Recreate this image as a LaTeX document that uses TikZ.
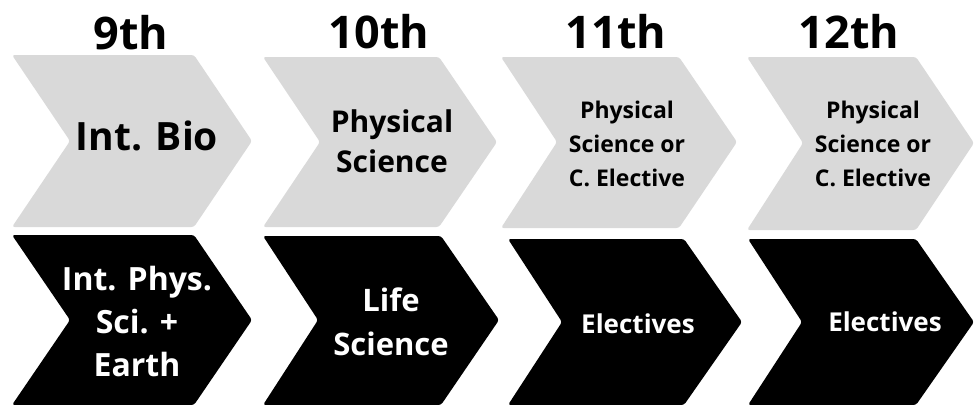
\documentclass[tikz,border=0pt]{standalone}
\usepackage{fontspec}
\setmainfont{Open Sans}
\usetikzlibrary{positioning}
\definecolor{chevgray}{HTML}{D9D9D9}
\tikzset{
chevtop/.style={
  fill=chevgray,
  rounded corners=2pt
  },
chevbot/.style={
  fill=black,
  rounded corners=2pt
  },
year/.style={font=\fontsize{33.75}{40}\selectfont\bfseries, inner sep=0pt, anchor=base},
lbl/.style={inner sep=0pt, align=center, text=black},
wlbl/.style={inner sep=0pt, align=center, text=white}
}

\begin{document}
\begin{tikzpicture}[x=0.75pt,y=0.75pt,yscale=-1,xscale=1]
\useasboundingbox (0,0) rectangle (974,404);

% top row
\fill [chevtop] (12,55) -- (194,55) -- (252,141) -- (194,227) -- (12,227) -- (70,141) -- cycle ;
\fill [chevtop] (263,57) -- (439,57) -- (497,142) -- (439,227) -- (263,227) -- (320,142) -- cycle ;
\fill [chevtop] (501,57) -- (679,57) -- (737,142) -- (679,228) -- (501,228) -- (557,142) -- cycle ;
\fill [chevtop] (747,57) -- (916,57) -- (974,143) -- (916,230) -- (747,230) -- (803,143) -- cycle ;

% bottom row
\fill [chevbot] (12,235) -- (194,235) -- (252,320) -- (194,405) -- (12,405) -- (70,320) -- cycle ;
\fill [chevbot] (263,236) -- (441,236) -- (499,320) -- (441,405) -- (263,405) -- (318,320) -- cycle ;
\fill [chevbot] (508,239) -- (684,239) -- (742,322) -- (684,405) -- (508,405) -- (562,322) -- cycle ;
\fill [chevbot] (748,239) -- (916,239) -- (974,322) -- (916,405) -- (748,405) -- (802,322) -- cycle ;

% years
\node [year] (y9) at (131,49) {9th};
\node [year] (y10) at (379,48) {10th};
\node [year] (y11) at (616,48) {11th};
\node [year] (y12) at (849,48) {12th};

% courses
\node [lbl, anchor=base, font=\fontsize{29.25}{35}\selectfont\bfseries] (bio) at (147,150) {Int. Bio};
\node [lbl, font=\fontsize{22.5}{30}\selectfont\bfseries] (phys10) at (392,141.5) {Physical\\Science};
\node [lbl, font=\fontsize{17.25}{25.5}\selectfont\bfseries] (phys11) at (627,144) {Physical\\Science or\\C. Elective};
\node [lbl, font=\fontsize{17.25}{25.5}\selectfont\bfseries] (phys12) at (873,144) {Physical\\Science or\\C. Elective};

\node [wlbl, font=\fontsize{24}{32.6}\selectfont\bfseries] (ips) at (137,321.5) {Int. Phys.\\Sci. +\\Earth};
\node [wlbl, font=\fontsize{23.25}{33}\selectfont\bfseries] (life) at (391,322) {Life\\Science};
\node [wlbl, anchor=base, font=\fontsize{19.5}{24}\selectfont\bfseries] (el11) at (638,333) {Electives};
\node [wlbl, anchor=base, font=\fontsize{19.5}{24}\selectfont\bfseries] (el12) at (885,331) {Electives};

\end{tikzpicture}
\end{document}
